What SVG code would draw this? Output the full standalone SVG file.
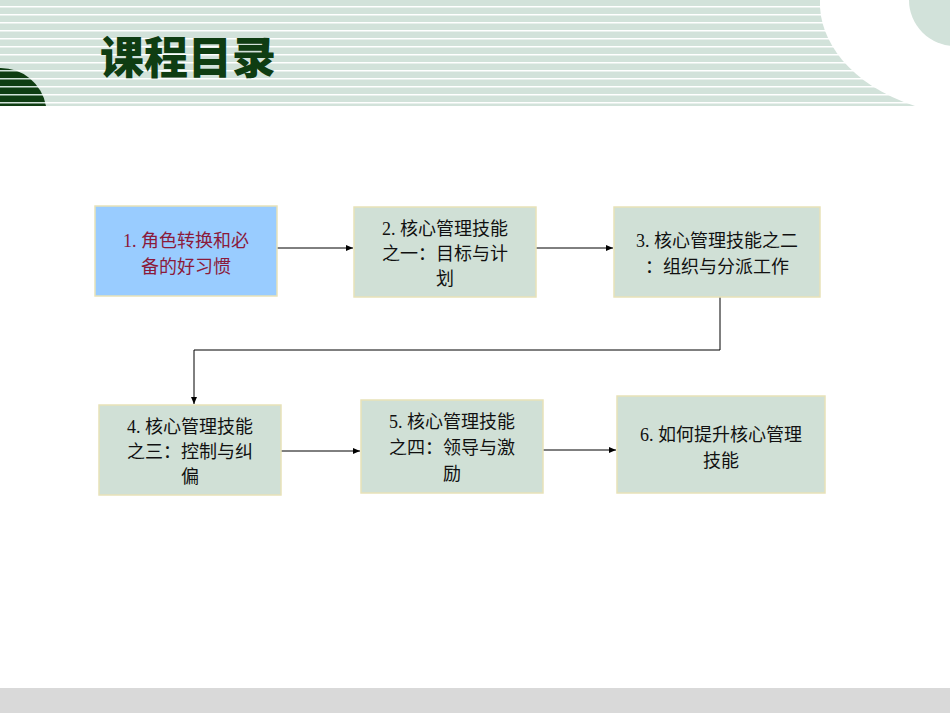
<svg xmlns="http://www.w3.org/2000/svg" width="950" height="713" viewBox="0 0 950 713">
<defs>
<pattern id="st" x="0" y="0" width="10" height="8" patternUnits="userSpaceOnUse"><rect width="10" height="8" fill="#d2e2da"/><rect y="6" width="10" height="1.5" fill="#fff"/></pattern>
<pattern id="sd" x="0" y="0" width="10" height="8" patternUnits="userSpaceOnUse"><rect width="10" height="8" fill="#0f3d12"/><rect y="6" width="10" height="1.5" fill="#d2e2da"/></pattern>
<marker id="ar" markerWidth="8" markerHeight="8" refX="7" refY="4" orient="auto" markerUnits="userSpaceOnUse"><path d="M0,1 L7,4 L0,7 z" fill="#000"/></marker>
</defs>
<style>
.b{fill:#d0e0d6;stroke:#e8e2b8;stroke-width:1.5}
.t{font-family:"Liberation Serif","Noto Sans CJK SC",serif;font-size:18px;fill:#111;text-anchor:middle}
.c{fill:none;stroke:#000;stroke-width:1;marker-end:url(#ar)}
</style>
<rect width="950" height="713" fill="#fff"/>
<rect x="0" y="0" width="950" height="106" fill="url(#st)"/>
<path d="M820,0 C818,40 850,85 915,106 L950,106 L950,0 Z" fill="#fff"/>
<circle cx="955" cy="0" r="46" fill="#d2e2da"/>
<path d="M0,68 A46,46 0 0 1 46,106 L0,106 Z" fill="url(#sd)"/>
<text x="100" y="74" font-family="'Noto Sans CJK SC',sans-serif" font-weight="900" font-size="44" fill="#0f3d12">课程目录</text>
<rect x="0" y="688" width="950" height="25" fill="#d9d9d9"/>
<g id="connectors">
<line class="c" x1="277" y1="248" x2="353" y2="248"/>
<line class="c" x1="536" y1="248" x2="613" y2="248"/>
<polyline class="c" points="720,297 720,350 194,350 194,404"/>
<line class="c" x1="281" y1="451" x2="360" y2="451"/>
<line class="c" x1="543" y1="450" x2="616" y2="450"/>
</g>
<g id="n1"><rect x="95" y="206" width="182" height="90" fill="#99ccff" stroke="#e8e2b8" stroke-width="1.5"/><text class="t" style="fill:#8b1a3a"><tspan x="186" y="247">1. 角色转换和必</tspan><tspan x="186" y="273">备的好习惯</tspan></text></g>
<g id="n2"><rect class="b" x="354" y="207" width="182" height="90"/><text class="t"><tspan x="445" y="235">2. 核心管理技能</tspan><tspan x="445" y="260">之一：目标与计</tspan><tspan x="445" y="285">划</tspan></text></g>
<g id="n3"><rect class="b" x="614" y="207" width="206" height="90"/><text class="t"><tspan x="717" y="247">3. 核心管理技能之二</tspan><tspan x="717" y="273">：组织与分派工作</tspan></text></g>
<g id="n4"><rect class="b" x="99" y="405" width="182" height="90"/><text class="t"><tspan x="190" y="433">4. 核心管理技能</tspan><tspan x="190" y="458">之三：控制与纠</tspan><tspan x="190" y="483">偏</tspan></text></g>
<g id="n5"><rect class="b" x="361" y="400" width="182" height="93"/><text class="t"><tspan x="452" y="428">5. 核心管理技能</tspan><tspan x="452" y="454">之四：领导与激</tspan><tspan x="452" y="480">励</tspan></text></g>
<g id="n6"><rect class="b" x="617" y="396" width="208" height="97"/><text class="t"><tspan x="721" y="441">6. 如何提升核心管理</tspan><tspan x="721" y="467">技能</tspan></text></g>
</svg>
